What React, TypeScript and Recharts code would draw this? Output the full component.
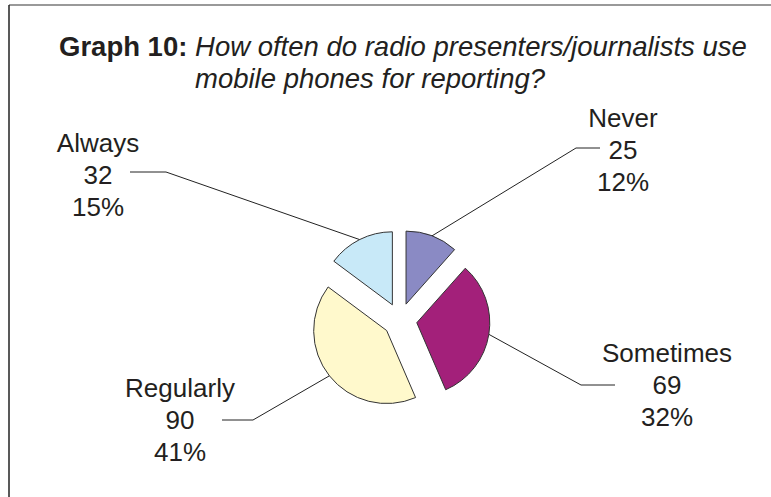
import React from 'react';
import { PieChart, Pie, Cell, Sector } from 'recharts';

const categories = ['Never', 'Sometimes', 'Regularly', 'Always'];
const counts = [25, 69, 90, 32];
const percentLabels = ['12%', '32%', '41%', '15%'];
const colors = ['#8A8AC4', '#A3207A', '#FFF9CC', '#C8E9F8'];

const titleBold = 'Graph 10:';
const titleItalic1 = 'How often do radio presenters/journalists use';
const titleItalic2 = 'mobile phones for reporting?';

const data = categories.map((name, i) => ({ name, value: counts[i], pct: percentLabels[i] }));

// label placement (layout only)
const labelLayout: Record<string, { elbowX: number; elbowY: number; endX: number; textX: number; textY: number }> = {
  Never: { elbowX: 576, elbowY: 148, endX: 600, textX: 623, textY: 150 },
  Sometimes: { elbowX: 581, elbowY: 385, endX: 615, textX: 667, textY: 385 },
  Regularly: { elbowX: 253, elbowY: 420, endX: 222, textX: 180, textY: 420 },
  Always: { elbowX: 166, elbowY: 172, endX: 130, textX: 98, textY: 175 },
};

const EXPLODE = 17;
const RAD = Math.PI / 180;
const FONT = '"Liberation Sans", Arial, Helvetica, sans-serif';

const renderSlice = (props: any) => {
  const { cx, cy, midAngle, outerRadius, startAngle, endAngle, index } = props;
  const dx = EXPLODE * Math.cos(-midAngle * RAD);
  const dy = EXPLODE * Math.sin(-midAngle * RAD);
  const ecx = cx + dx;
  const ecy = cy + dy;
  const sx = ecx + outerRadius * Math.cos(-midAngle * RAD);
  const sy = ecy + outerRadius * Math.sin(-midAngle * RAD);
  const d = data[index];
  const lay = labelLayout[d.name];
  return (
    <g key={`slice-${index}`}>
      <Sector
        cx={ecx}
        cy={ecy}
        innerRadius={0}
        outerRadius={outerRadius}
        startAngle={startAngle}
        endAngle={endAngle}
        fill={colors[index]}
        stroke="#333"
        strokeWidth={1}
      />
      <polyline
        points={`${sx},${sy} ${lay.elbowX},${lay.elbowY} ${lay.endX},${lay.elbowY}`}
        fill="none"
        stroke="#222"
        strokeWidth={1}
      />
      <text
        x={lay.textX}
        textAnchor="middle"
        fontFamily={FONT}
        fontSize={26}
        fill="#231f20"
      >
        <tspan x={lay.textX} y={lay.textY - 32} dominantBaseline="central">{d.name}</tspan>
        <tspan x={lay.textX} y={lay.textY} dominantBaseline="central">{d.value}</tspan>
        <tspan x={lay.textX} y={lay.textY + 32} dominantBaseline="central">{d.pct}</tspan>
      </text>
    </g>
  );
};

export default function App() {
  return (
    <div style={{ position: 'absolute', left: 0, top: 0, width: 771, height: 497, background: '#fff', overflow: 'hidden' }}>
      <svg width={771} height={497} style={{ position: 'absolute', left: 0, top: 0 }}>
        <line x1={9} y1={5} x2={771} y2={5} stroke="#777" strokeWidth={1.5} />
        <line x1={9} y1={5} x2={9} y2={497} stroke="#222" strokeWidth={1.5} />
        <text x={59} y={56} fontFamily={FONT} fontSize={27.5} fill="#231f20">
          <tspan fontWeight="bold">{titleBold}</tspan>
          <tspan fontStyle="italic">{' ' + titleItalic1}</tspan>
        </text>
        <text x={195} y={88} fontFamily={FONT} fontSize={27.5} fontStyle="italic" fill="#231f20">
          {titleItalic2}
        </text>
      </svg>
      <div style={{ position: 'absolute', left: 0, top: 0 }}>
        <PieChart width={771} height={497}>
          <Pie
            data={data}
            dataKey="value"
            nameKey="name"
            cx={395}
            cy={315}
            outerRadius={73}
            startAngle={90}
            endAngle={-270}
            isAnimationActive={false}
            label={renderSlice}
            labelLine={false}
            stroke="none"
          >
            {data.map((d) => (
              <Cell key={d.name} fill="none" stroke="none" />
            ))}
          </Pie>
        </PieChart>
      </div>
    </div>
  );
}
